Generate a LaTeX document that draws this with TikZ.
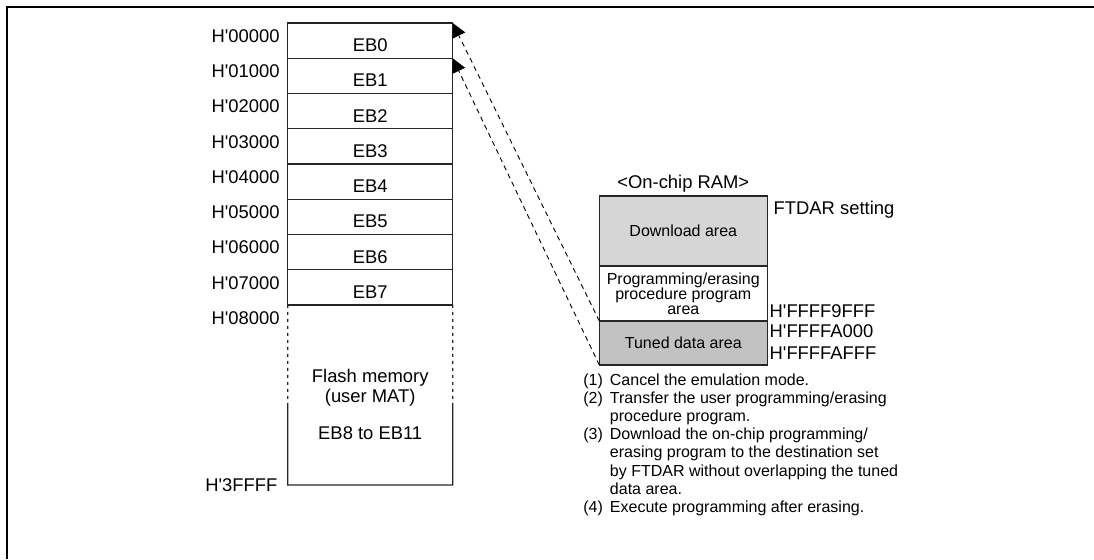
\documentclass[tikz,border=0pt]{standalone}
\usepackage{fontspec}
\setmainfont{Liberation Sans}
\usepackage{xcolor}
\usepackage{tikz}
\usetikzlibrary{positioning, calc, arrows.meta}

\definecolor{dlgray}{RGB}{214,214,214}
\definecolor{tungray}{RGB}{194,194,194}
\newcommand{\haddr}[1]{H\textquotesingle#1}

\begin{document}
\begin{tikzpicture}[x=0.5pt, y=-0.5pt, node distance=17.625pt,
  blk/.style={rectangle, draw=black!85, line width=0.65pt, minimum width=82.5pt, minimum height=17.625pt, inner sep=0pt, outer sep=0pt, text height=11pt, text depth=0pt, font=\fontsize{9.2}{11}\selectfont},
  addr/.style={inner sep=0pt, font=\fontsize{9.2}{11}\selectfont},
  ram/.style={rectangle, draw=black!85, line width=0.6pt, minimum width=84pt, inner sep=0pt, outer sep=0pt, align=center, font=\fontsize{8}{7.5}\selectfont},
  link/.style={dash pattern=on 2.5pt off 2pt, line width=0.45pt, -{Triangle[length=7pt, width=7pt]}}]

\useasboundingbox (0,0) rectangle (1094,559);
\draw[line width=1pt] (7,559) -- (7,7) -- (1094,7);

% user MAT blocks
\node[blk] (eb0) at (370.2,40.6) {EB0};
\node[blk, below of=eb0] (eb1) {EB1};
\node[blk, below of=eb1] (eb2) {EB2};
\node[blk, below of=eb2] (eb3) {EB3};
\node[blk, below of=eb3] (eb4) {EB4};
\node[blk, below of=eb4] (eb5) {EB5};
\node[blk, below of=eb5] (eb6) {EB6};
\node[blk, below of=eb6] (eb7) {EB7};
\node[blk, draw=none, below of=eb7, node distance=53.81pt, minimum height=90pt] (rest) {};

\draw[line width=0.65pt, black!85, dash pattern=on 1.5pt off 2pt] (rest.north west) -- ($(rest.north west)!0.55!(rest.south west)$);
\draw[line width=0.65pt, black!85, dash pattern=on 1.5pt off 2pt] (rest.north east) -- ($(rest.north east)!0.55!(rest.south east)$);
\draw[line width=0.65pt, black!85] ($(rest.north west)!0.55!(rest.south west)$) -- (rest.south west) -- (rest.south east) -- ($(rest.north east)!0.55!(rest.south east)$);
\node[addr, align=center, anchor=north, font=\fontsize{9.2}{10}\selectfont] (flash) at ($(rest.north)+(0,64.2)$) {Flash memory\\(user MAT)\\[8.3pt]EB8 to EB11};

% addresses
\node[addr, left=3.85pt of eb0.north west, yshift=-6.5pt] (a0) {\haddr{00000}};
\node[addr, left=3.85pt of eb1.north west, yshift=-6.5pt] (a1) {\haddr{01000}};
\node[addr, left=3.85pt of eb2.north west, yshift=-6.5pt] (a2) {\haddr{02000}};
\node[addr, left=3.85pt of eb3.north west, yshift=-6.5pt] (a3) {\haddr{03000}};
\node[addr, left=3.85pt of eb4.north west, yshift=-6.5pt] (a4) {\haddr{04000}};
\node[addr, left=3.85pt of eb5.north west, yshift=-6.5pt] (a5) {\haddr{05000}};
\node[addr, left=3.85pt of eb6.north west, yshift=-6.5pt] (a6) {\haddr{06000}};
\node[addr, left=3.85pt of eb7.north west, yshift=-6.5pt] (a7) {\haddr{07000}};
\node[addr, left=3.85pt of rest.north west, yshift=-6.5pt] (a8) {\haddr{08000}};
\node[addr, left=5pt of rest.south west] (aend) {\haddr{3FFFF}};

% on-chip RAM
\node[ram, fill=dlgray, minimum height=35pt] (dl) at (683.3,231) {Download area};
\node[ram, fill=white, minimum height=27.5pt, below of=dl, node distance=31.25pt] (prog) {Programming/erasing\\procedure program\\area};
\node[ram, fill=tungray, minimum height=22pt, below of=prog, node distance=24.75pt] (tun) {Tuned data area};
\node[addr] (ramtitle) at ($(dl.north)+(0,-12.7)$) {<On-chip RAM>};

\node[addr, right=3pt of dl.north east, yshift=-7pt] (ftdar) {FTDAR setting};
\node[addr, right=1pt of prog.south east, yshift=5pt] (r1) {\haddr{FFFF9FFF}};
\node[addr, right=1pt of tun.north east, yshift=-5.3pt] (r2) {\haddr{FFFFA000}};
\node[addr, right=1pt of tun.south east, yshift=5.8pt] (r3) {\haddr{FFFFAFFF}};

\draw[link] (tun.north west) -- (eb0.north east);
\draw[link] (tun.south west) -- (eb1.north east);

% steps
\node[anchor=north west, inner sep=0pt, font=\fontsize{8}{9.1}\selectfont] (notes) at (583,372) {\begin{tabular}{@{}l@{\hspace{3.5pt}}l@{}}
(1) & Cancel the emulation mode.\\
(2) & Transfer the user programming/erasing\\
    & procedure program.\\
(3) & Download the on-chip programming/\\
    & erasing program to the destination set\\
    & by FTDAR without overlapping the tuned\\
    & data area.\\
(4) & Execute programming after erasing.
\end{tabular}};

\end{tikzpicture}
\end{document}
